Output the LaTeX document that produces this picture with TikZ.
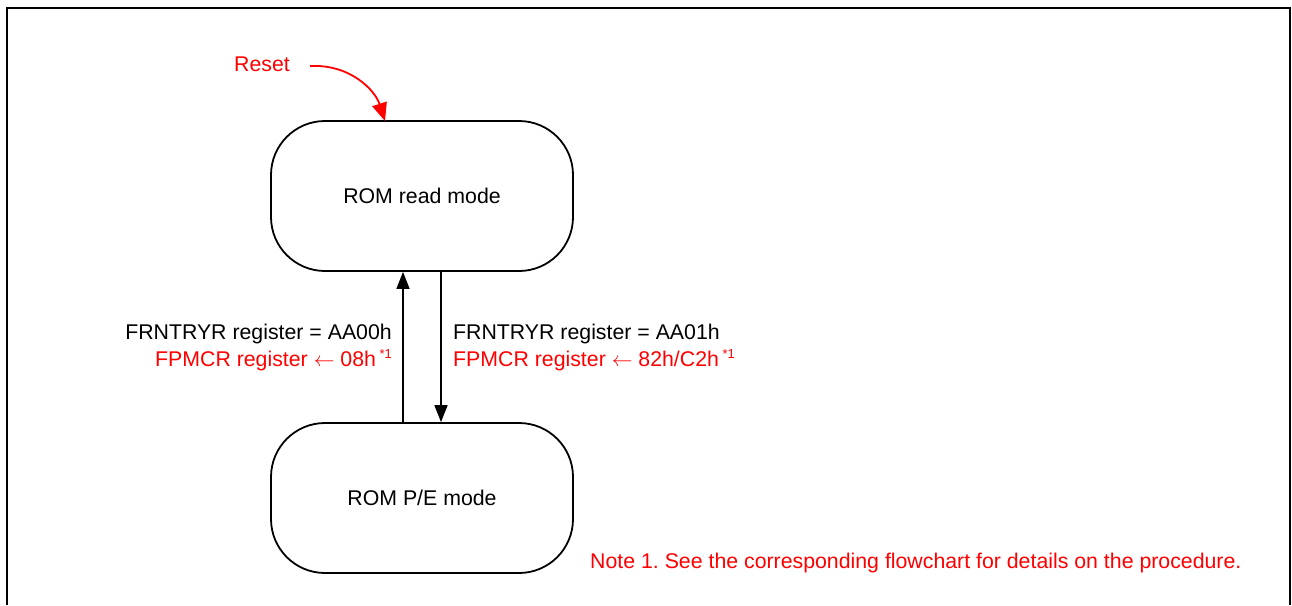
\documentclass[tikz,border=0pt]{standalone}
\usepackage{fontspec}
\setmainfont{Liberation Sans}
\usetikzlibrary{arrows.meta}
\tikzset{
  statebox/.style={draw=black, line width=1.8pt, rounded corners=54pt, minimum width=302pt, minimum height=150pt, inner sep=0pt, font=\fontsize{21.3}{26}\selectfont},
  lbl/.style={inner sep=0pt, font=\fontsize{21.3}{27}\selectfont},
  conn/.style={line width=1.5pt, -{Triangle[length=17pt,width=13pt]}},
  resetconn/.style={red, line width=1.8pt, -{Triangle[length=18pt,width=15pt]}},
}
\newcommand{\supone}{\,\raisebox{8pt}{\fontsize{13}{13}\selectfont *1}}
\begin{document}
\frenchspacing
\begin{tikzpicture}[x=1pt,y=-1pt]
\useasboundingbox (0,0) rectangle (1292,605);
\draw[line width=2.5pt] (7,605) -- (7,8) -- (1290,8) -- (1290,605);
\node[statebox] (read) at (422,196) {ROM read mode};
\node[statebox] (pe) at (422,498) {ROM P/E mode};
\coordinate (ux) at (403,0);
\coordinate (dx) at (441,0);
\draw[conn] (pe.north -| ux) -- (read.south -| ux);
\draw[conn] (read.south -| dx) -- (pe.north -| dx);
\node[lbl, anchor=east, align=right] (ltxt) at (392,347) {FRNTRYR register = AA00h\\\textcolor{red}{FPMCR register $\leftarrow$ 08h\supone}};
\node[lbl, anchor=west, align=left] (rtxt) at (453,347) {FRNTRYR register = AA01h\\\textcolor{red}{FPMCR register $\leftarrow$ 82h/C2h\supone}};
\node[lbl, red] (reset) at (262,64) {Reset};
\coordinate (rtip) at (385,121);
\draw[resetconn] ([xshift=20pt,yshift=-2pt]reset.east) .. controls (350,64) and (375,90) .. (rtip);
\node[lbl, red, anchor=west] (note) at (590,563) {Note 1. See the corresponding flowchart for details on the procedure.};
\end{tikzpicture}
\end{document}
